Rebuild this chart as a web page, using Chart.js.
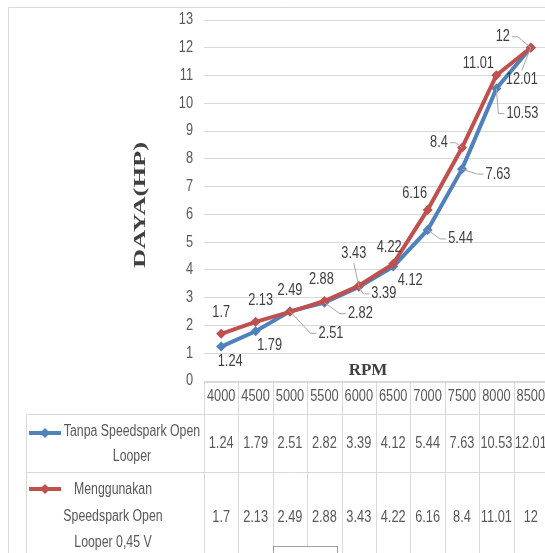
<!DOCTYPE html>
<html>
<head>
<meta charset="utf-8">
<script src="https://cdn.jsdelivr.net/npm/chart.js@4/dist/chart.umd.min.js"></script>
<style>
  html, body { margin: 0; padding: 0; overflow: hidden; background: #fff; }
  canvas { display: block; }
</style>
</head>
<body>
<canvas id="daya" width="560" height="553"></canvas>
<script>
// RPM categories and engine power (HP) for both configurations
const rpm = ['4000', '4500', '5000', '5500', '6000', '6500', '7000', '7500', '8000', '8500'];
const tanpa = [1.24, 1.79, 2.51, 2.82, 3.39, 4.12, 5.44, 7.63, 10.53, 12.01];
const menggunakan = [1.7, 2.13, 2.49, 2.88, 3.43, 4.22, 6.16, 8.4, 11.01, 12];
const seriesNames = ['Tanpa Speedspark Open Looper', 'Menggunakan Speedspark Open Looper 0,45 V'];
const yMin = 0, yMax = 13, yStep = 1;

// Value label placement: [dx, dy, leader side] relative to each point
const labelPlaceTanpa = [[9,15,null],[14,14,null],[41,22,'left'],[36,11,'left'],[25,7,'left'],
                         [17,14,null],[33,9,'left'],[36,5,'left'],[26,25,'left'],[-9,32,'top']];
const labelPlaceMeng  = [[0,-21,null],[5,-21,null],[0,-21,null],[-3,-21,null],[-5,-32,'bottom'],
                         [-4,-16,null],[-13,-16,null],[-23,-5,'right'],[-18,-12,null],[-28,-11,'right']];

// Legend text in the data table, wrapped over several lines
const tableLegend = [
  { lines: ['Tanpa Speedspark Open', 'Looper'], cx: 132, ys: [432, 457], valueY: 444, keyY: 433 },
  { lines: ['Menggunakan', 'Speedspark Open', 'Looper 0,45 V'], cx: 113, ys: [490, 517, 543], valueY: 518, keyY: 489 }
];

const BLUE = '#4f81bd', RED = '#c0504d';
const GRID = '#d9d9d9', TEXT = '#595959', LABEL = '#404040', LEADER = '#a6a6a6';
const SANS = '"Liberation Sans", Arial, sans-serif';
const SERIF = '"Liberation Serif", "DejaVu Serif", serif';
const NUM_SQUEEZE = 0.8, TXT_SQUEEZE = 0.77;

// draw horizontally condensed text (narrow UI face)
function narrowText(ctx, txt, x, y, align, squeeze) {
  ctx.save();
  ctx.translate(x, y);
  ctx.scale(squeeze, 1);
  ctx.textAlign = align;
  ctx.fillText(txt, 0, 0);
  ctx.restore();
}

const decorations = {
  id: 'decorations',
  beforeDraw(chart) {
    const ctx = chart.ctx;
    ctx.save();
    ctx.fillStyle = '#fff';
    ctx.fillRect(0, 0, chart.width, chart.height);
    // outer frame
    ctx.strokeStyle = GRID;
    ctx.lineWidth = 1;
    ctx.beginPath();
    ctx.moveTo(8.5, chart.height);
    ctx.lineTo(8.5, 7.5);
    ctx.lineTo(chart.width, 7.5);
    ctx.stroke();
    ctx.restore();
  },
  afterDatasetsDraw(chart) {
    const ctx = chart.ctx;
    const xs = chart.scales.x, ys = chart.scales.y;
    ctx.save();
    ctx.textBaseline = 'middle';

    // y tick labels
    ctx.font = '16px ' + SANS;
    ctx.fillStyle = TEXT;
    ys.ticks.forEach(t => narrowText(ctx, String(t.value), 193, ys.getPixelForValue(t.value), 'right', NUM_SQUEEZE));

    // value labels with leader lines
    const sets = [[tanpa, labelPlaceTanpa], [menggunakan, labelPlaceMeng]];
    sets.forEach(([vals, place]) => {
      vals.forEach((v, i) => {
        const px = xs.getPixelForValue(i);
        const py = ys.getPixelForValue(v);
        const [dx, dy, side] = place[i];
        const lx = px + dx, ly = py + dy;
        const txt = String(v);
        const w = ctx.measureText(txt).width * NUM_SQUEEZE;
        if (side) {
          ctx.strokeStyle = LEADER;
          ctx.lineWidth = 1;
          ctx.beginPath();
          if (side === 'left') {
            ctx.moveTo(lx - w / 2 - 2, ly);
            ctx.lineTo(lx - w / 2 - 8, ly);
          } else if (side === 'right') {
            ctx.moveTo(lx + w / 2 + 2, ly);
            ctx.lineTo(lx + w / 2 + 8, ly);
          } else if (side === 'bottom') {
            ctx.moveTo(lx, ly + 9);
          } else {
            ctx.moveTo(lx, ly - 9);
          }
          ctx.lineTo(px, py);
          ctx.stroke();
        }
        ctx.fillStyle = LABEL;
        narrowText(ctx, txt, lx, ly, 'center', NUM_SQUEEZE);
      });
    });

    // axis titles
    ctx.fillStyle = LABEL;
    ctx.textAlign = 'center';
    ctx.font = 'bold 17px ' + SERIF;
    ctx.fillText('RPM', 368, 371);

    ctx.save();
    ctx.translate(141, 205);
    ctx.rotate(-Math.PI / 2);
    const title = 'DAYA(HP)';
    const tw = ctx.measureText(title).width;
    ctx.scale(126 / tw, 1);
    ctx.fillText(title, 0, 0);
    ctx.restore();

    // data table
    const n = rpm.length;
    const colW = (xs.right - xs.left) / n;
    const top = 382.5, headBottom = 414.5, rowSep = 472.5, bottom = chart.height;
    ctx.strokeStyle = GRID;
    ctx.lineWidth = 1;
    ctx.beginPath();
    ctx.moveTo(xs.left, top); ctx.lineTo(chart.width, top);
    ctx.moveTo(26.5, headBottom); ctx.lineTo(chart.width, headBottom);
    ctx.moveTo(26.5, rowSep); ctx.lineTo(chart.width, rowSep);
    ctx.moveTo(26.5, headBottom); ctx.lineTo(26.5, bottom);
    for (let i = 0; i <= n; i++) {
      const x = Math.round(xs.left + i * colW) + 0.5;
      ctx.moveTo(x, top); ctx.lineTo(x, bottom);
    }
    ctx.stroke();

    ctx.font = '16px ' + SANS;
    ctx.fillStyle = TEXT;
    rpm.forEach((r, i) => narrowText(ctx, r, xs.getPixelForValue(i), 397, 'center', NUM_SQUEEZE));
    [tanpa, menggunakan].forEach((vals, s) => {
      vals.forEach((v, i) => narrowText(ctx, String(v), xs.getPixelForValue(i), tableLegend[s].valueY, 'center', NUM_SQUEEZE));
    });

    // legend keys and names
    [BLUE, RED].forEach((col, s) => {
      const L = tableLegend[s];
      ctx.strokeStyle = col;
      ctx.lineWidth = 4;
      ctx.beginPath();
      ctx.moveTo(29, L.keyY); ctx.lineTo(61, L.keyY);
      ctx.stroke();
      ctx.fillStyle = col;
      ctx.beginPath();
      ctx.moveTo(45, L.keyY - 5); ctx.lineTo(50, L.keyY);
      ctx.lineTo(45, L.keyY + 5); ctx.lineTo(40, L.keyY);
      ctx.closePath(); ctx.fill();
      ctx.fillStyle = TEXT;
      L.lines.forEach((t, k) => narrowText(ctx, t, L.cx, L.ys[k], 'center', TXT_SQUEEZE));
    });

    // small floating caption box at the bottom edge
    ctx.fillStyle = '#fff';
    ctx.fillRect(273.5, 546.5, 64, 20);
    ctx.strokeStyle = '#a0a0a0';
    ctx.lineWidth = 1;
    ctx.strokeRect(273.5, 546.5, 64, 20);

    ctx.restore();
  }
};

new Chart(document.getElementById('daya'), {
  type: 'line',
  data: {
    labels: rpm,
    datasets: [
      { label: seriesNames[0], data: tanpa, borderColor: BLUE, backgroundColor: BLUE,
        borderWidth: 4, pointStyle: 'rectRot', pointRadius: 5, pointBorderWidth: 0, tension: 0, order: 1 },
      { label: seriesNames[1], data: menggunakan, borderColor: RED, backgroundColor: RED,
        borderWidth: 4, pointStyle: 'rectRot', pointRadius: 5, pointBorderWidth: 0, tension: 0, order: 0 }
    ]
  },
  options: {
    responsive: false,
    animation: false,
    layout: { padding: { left: 0, right: 12, top: 20, bottom: 172 } },
    plugins: { legend: { display: false }, tooltip: { enabled: false } },
    scales: {
      x: { display: false, offset: true },
      y: {
        min: yMin, max: yMax,
        afterFit(scale) { scale.width = 204; },
        border: { display: false },
        grid: { color: GRID, lineWidth: 1, drawTicks: false },
        ticks: { display: false, stepSize: yStep }
      }
    }
  },
  plugins: [decorations]
});
</script>
</body>
</html>
